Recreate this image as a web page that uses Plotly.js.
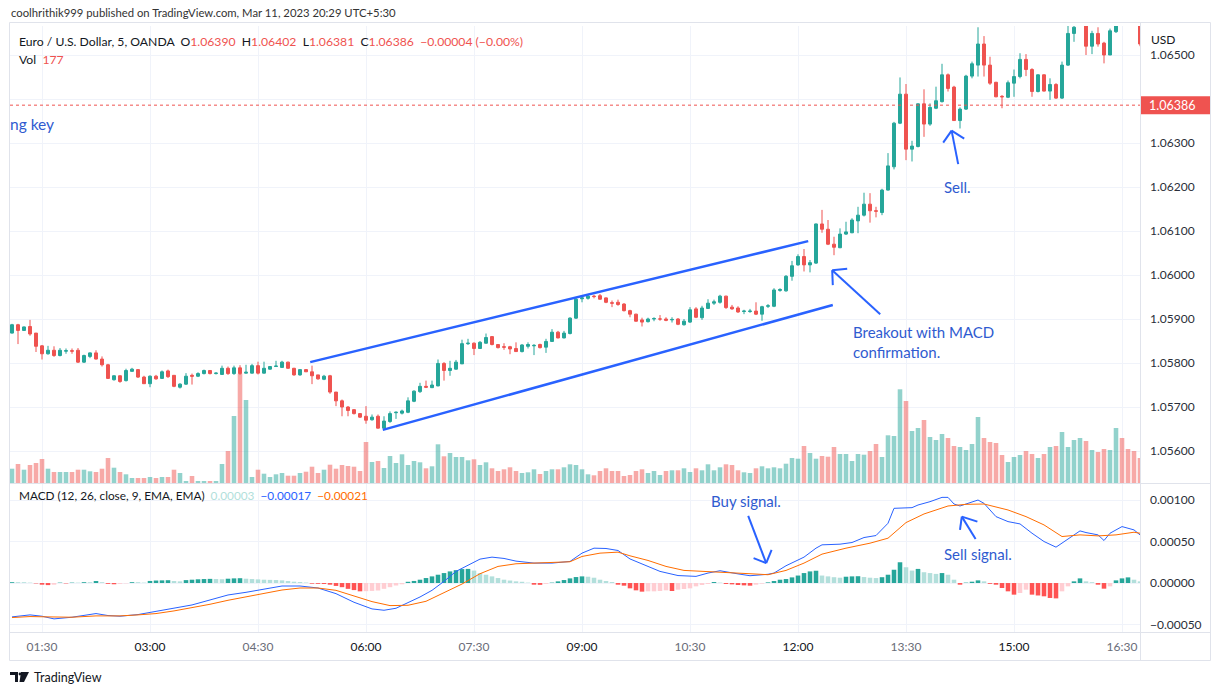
<!DOCTYPE html>
<html>
<head>
<meta charset="utf-8">
<script src="https://cdn.plot.ly/plotly-3.0.1.min.js"></script>
<style>
  html, body { margin: 0; padding: 0; background: #ffffff; }
  #chart { width: 1220px; height: 695px; }
</style>
</head>
<body>
<div id="chart"></div>
<script>
// EUR/USD, 5-minute bars from 01:05 to 16:45
const opens = [
1.05868,1.05887,1.05874,1.05883,1.05868,1.05839,1.05821,1.05829,1.05817,1.05827,
1.05828,1.05829,1.05802,1.05815,1.05823,1.05809,1.05796,1.05762,1.05771,1.05760,
1.05781,1.05785,1.05768,1.05753,1.05770,1.05765,1.05782,1.05772,1.05745,1.05752,
1.05772,1.05770,1.05776,1.05783,1.05776,1.05774,1.05788,1.05776,1.05789,1.05777,
1.05777,1.05794,1.05777,1.05786,1.05792,1.05790,1.05802,1.05788,1.05773,1.05785,
1.05780,1.05773,1.05763,1.05771,1.05734,1.05714,1.05700,1.05694,1.05685,1.05679,
1.05671,1.05679,1.05652,1.05667,1.05687,1.05686,1.05688,1.05713,1.05735,1.05747,
1.05744,1.05748,1.05799,1.05783,1.05786,1.05798,1.05844,1.05845,1.05833,1.05845,
1.05860,1.05842,1.05837,1.05837,1.05833,1.05826,1.05838,1.05839,1.05842,1.05836,
1.05849,1.05870,1.05857,1.05867,1.05902,1.05946,1.05947,1.05952,1.05953,1.05948,
1.05937,1.05938,1.05934,1.05919,1.05911,1.05898,1.05894,1.05900,1.05900,1.05900,
1.05898,1.05900,1.05887,1.05893,1.05923,1.05903,1.05924,1.05936,1.05938,1.05952,
1.05927,1.05925,1.05917,1.05917,1.05918,1.05911,1.05929,1.05929,1.05965,1.05964,
1.05997,1.06023,1.06042,1.06023,1.06027,1.06116,1.06104,1.06070,1.06062,1.06093,
1.06096,1.06123,1.06136,1.06161,1.06146,1.06142,1.06193,1.06246,1.06345,1.06411,
1.06286,1.06292,1.06389,1.06343,1.06379,1.06394,1.06455,1.06427,1.06351,1.06377,
1.06452,1.06477,1.06525,1.06477,1.06438,1.06406,1.06404,1.06436,1.06451,1.06490,
1.06467,1.06417,1.06455,1.06418,1.06433,1.06402,1.06477,1.06549,1.06572,1.06590,
1.06520,1.06549,1.06527,1.06500,1.06553,1.06600,1.06585,1.06578,1.06575];

const highs = [
1.05889,1.05889,1.05883,1.05898,1.05868,1.05841,1.05839,1.05838,1.05834,1.05833,
1.05833,1.05834,1.05819,1.05824,1.05829,1.05815,1.05798,1.05772,1.05772,1.05787,
1.05789,1.05786,1.05771,1.05772,1.05773,1.05783,1.05785,1.05772,1.05754,1.05777,
1.05776,1.05779,1.05785,1.05783,1.05779,1.05794,1.05792,1.05794,1.05795,1.05796,
1.05798,1.05803,1.05803,1.05792,1.05805,1.05805,1.05803,1.05789,1.05785,1.05786,
1.05794,1.05773,1.05773,1.05773,1.05734,1.05717,1.05702,1.05695,1.05686,1.05702,
1.05683,1.05683,1.05679,1.05690,1.05690,1.05694,1.05722,1.05738,1.05755,1.05760,
1.05760,1.05808,1.05802,1.05805,1.05807,1.05853,1.05855,1.05847,1.05850,1.05867,
1.05861,1.05843,1.05845,1.05839,1.05847,1.05843,1.05847,1.05843,1.05844,1.05855,
1.05877,1.05873,1.05873,1.05904,1.05949,1.05953,1.05956,1.05955,1.05957,1.05949,
1.05942,1.05944,1.05936,1.05921,1.05912,1.05903,1.05903,1.05904,1.05909,1.05904,
1.05904,1.05902,1.05900,1.05927,1.05927,1.05930,1.05945,1.05944,1.05955,1.05953,
1.05932,1.05929,1.05921,1.05923,1.05938,1.05930,1.05934,1.05970,1.05970,1.06000,
1.06032,1.06047,1.06059,1.06034,1.06117,1.06148,1.06125,1.06087,1.06106,1.06121,
1.06129,1.06155,1.06187,1.06186,1.06155,1.06196,1.06277,1.06348,1.06449,1.06434,
1.06305,1.06390,1.06422,1.06390,1.06428,1.06480,1.06458,1.06430,1.06381,1.06455,
1.06485,1.06563,1.06543,1.06496,1.06439,1.06409,1.06442,1.06467,1.06504,1.06502,
1.06470,1.06456,1.06456,1.06447,1.06436,1.06485,1.06575,1.06590,1.06605,1.06600,
1.06555,1.06563,1.06530,1.06560,1.06590,1.06625,1.06600,1.06590,1.06580];

const lows = [
1.05867,1.05843,1.05873,1.05862,1.05825,1.05808,1.05819,1.05814,1.05815,1.05821,
1.05821,1.05800,1.05800,1.05811,1.05808,1.05792,1.05764,1.05760,1.05755,1.05758,
1.05781,1.05766,1.05753,1.05745,1.05762,1.05764,1.05766,1.05745,1.05742,1.05750,
1.05751,1.05768,1.05774,1.05774,1.05774,1.05773,1.05773,1.05773,1.05773,1.05776,
1.05776,1.05774,1.05776,1.05785,1.05791,1.05789,1.05787,1.05771,1.05771,1.05780,
1.05752,1.05762,1.05761,1.05730,1.05702,1.05679,1.05679,1.05683,1.05675,1.05662,
1.05669,1.05651,1.05650,1.05664,1.05673,1.05683,1.05686,1.05711,1.05732,1.05743,
1.05743,1.05747,1.05760,1.05771,1.05785,1.05798,1.05841,1.05818,1.05832,1.05844,
1.05840,1.05833,1.05830,1.05820,1.05825,1.05824,1.05833,1.05818,1.05833,1.05823,
1.05848,1.05856,1.05856,1.05865,1.05900,1.05938,1.05944,1.05947,1.05944,1.05936,
1.05927,1.05930,1.05917,1.05904,1.05894,1.05883,1.05892,1.05895,1.05896,1.05895,
1.05892,1.05886,1.05885,1.05891,1.05902,1.05898,1.05923,1.05932,1.05935,1.05923,
1.05921,1.05914,1.05911,1.05914,1.05909,1.05896,1.05925,1.05927,1.05962,1.05962,
1.05987,1.06021,1.06008,1.06006,1.06025,1.06096,1.06068,1.06045,1.06061,1.06091,
1.06095,1.06095,1.06133,1.06119,1.06131,1.06136,1.06192,1.06240,1.06343,1.06261,
1.06258,1.06290,1.06314,1.06339,1.06377,1.06392,1.06417,1.06351,1.06333,1.06375,
1.06447,1.06451,1.06451,1.06432,1.06404,1.06379,1.06402,1.06405,1.06447,1.06452,
1.06405,1.06415,1.06417,1.06398,1.06400,1.06400,1.06475,1.06530,1.06570,1.06500,
1.06502,1.06519,1.06481,1.06500,1.06550,1.06580,1.06572,1.06574,1.06520];

const closes = [
1.05887,1.05874,1.05882,1.05866,1.05838,1.05821,1.05829,1.05817,1.05829,1.05828,
1.05827,1.05802,1.05817,1.05823,1.05809,1.05796,1.05765,1.05771,1.05758,1.05783,
1.05786,1.05768,1.05753,1.05770,1.05764,1.05780,1.05769,1.05747,1.05752,1.05770,
1.05770,1.05776,1.05783,1.05776,1.05777,1.05788,1.05776,1.05789,1.05776,1.05779,
1.05794,1.05777,1.05788,1.05792,1.05793,1.05802,1.05788,1.05773,1.05785,1.05780,
1.05771,1.05764,1.05770,1.05734,1.05714,1.05700,1.05692,1.05685,1.05677,1.05670,
1.05677,1.05652,1.05668,1.05685,1.05688,1.05691,1.05714,1.05736,1.05747,1.05745,
1.05750,1.05799,1.05783,1.05788,1.05802,1.05844,1.05845,1.05833,1.05847,1.05858,
1.05842,1.05835,1.05836,1.05832,1.05826,1.05841,1.05842,1.05840,1.05835,1.05849,
1.05870,1.05857,1.05868,1.05902,1.05945,1.05948,1.05952,1.05951,1.05945,1.05938,
1.05936,1.05933,1.05919,1.05911,1.05895,1.05893,1.05900,1.05901,1.05900,1.05897,
1.05899,1.05888,1.05895,1.05921,1.05904,1.05925,1.05936,1.05939,1.05952,1.05926,
1.05923,1.05916,1.05918,1.05918,1.05911,1.05928,1.05930,1.05966,1.05967,1.05997,
1.06021,1.06042,1.06023,1.06028,1.06116,1.06104,1.06070,1.06063,1.06093,1.06098,
1.06125,1.06136,1.06161,1.06146,1.06145,1.06193,1.06248,1.06345,1.06411,1.06286,
1.06293,1.06389,1.06343,1.06381,1.06396,1.06455,1.06424,1.06351,1.06377,1.06452,
1.06480,1.06525,1.06477,1.06436,1.06405,1.06405,1.06437,1.06451,1.06490,1.06467,
1.06417,1.06455,1.06418,1.06433,1.06402,1.06477,1.06549,1.06563,1.06598,1.06520,
1.06549,1.06525,1.06500,1.06555,1.06575,1.06585,1.06578,1.06575,1.06525];

const volumes = [
143,190,133,180,200,240,143,110,110,110,
110,133,133,117,110,143,250,153,110,87,
50,50,50,60,50,60,60,133,100,20,
70,20,20,20,20,190,320,670,1093,830,
60,133,93,60,87,100,73,73,100,113,
163,100,133,183,143,180,170,163,120,410,
210,220,150,270,200,287,180,220,207,147,
167,387,267,300,260,260,227,237,180,207,
147,120,137,157,120,100,107,137,90,120,
137,137,157,187,180,137,87,77,120,147,
120,120,70,80,120,137,100,120,80,120,
127,127,147,110,147,127,187,127,157,187,
180,127,107,100,147,167,147,157,147,193,
250,243,370,300,243,270,263,360,290,290,
220,290,283,320,390,260,477,470,937,820,
520,550,630,460,430,490,450,370,360,330,
390,660,450,410,400,280,210,260,280,320,
290,250,290,360,370,510,360,430,450,420,
330,310,340,330,550,450,340,320,250];

// MACD (12, 26, 9) in units of 0.00001
const histValues = [
1,1,1,0.5,-0.5,-2,-2.5,-2,0.5,-0.5,
0.5,0.5,1,1,2.4,1,-1,-1.5,-1,-0.5,
1,1,0.5,2.5,3,3.2,3.4,2.4,2,3.5,
4,4.5,4.8,5,4.8,4.6,5.2,5.6,5.8,5.2,
4.8,4.4,4,3.8,3.6,3.2,2.4,1.6,1.2,0.6,
-0.8,-1,-1.2,-2,-3.5,-5,-7,-8.5,-10,-9.8,
-9.5,-9,-7,-5,-3,-1.5,1.5,2.5,4,6,
8,10,12,14,15.5,16.8,17,15,12,10,
8,6,4,3,2,1.5,0.5,-2,-2.2,-1,
0.5,2,3.6,5.6,7.2,8,7.6,6.4,4,2.4,
1.2,-2,-3.2,-6.4,-8.8,-10.4,-10,-10,-9.6,-8.8,
-9.6,-8,-7.2,-6.4,-4,-2.4,-1.2,1.2,0.5,-1.2,
-1.6,-2.4,-2.8,-3.2,-2,-0.8,0.8,2.4,4,4.8,
6.8,9,12,14,14.8,9,8,7,6.4,7.6,
8,8.2,7.2,6.4,6,7,10,16,25,19,
15,17,13,12,11,12,10,4,-2,0.5,
1.6,3.2,2,-1,-2,-6,-10,-14,-12,-8,
-14,-15,-16,-18,-18.5,-10,-4,2,5.6,2,
1,-2,-6.8,-4,3.2,5.6,6.8,4,2,-1.2];

const macdBars = [0,3,5,7,10,12,14,16,18,21,24,27,30,33,36,39,42,45,48,51,54,57,60,62,64,66,68,70,72,74,76,78,80,82,84,87,90,93,95,97,99,101,103,106,108,111,114,116,118,121,123,126,127,129,131,132,134,135,138,140,142,144,146,147,150,151,153,155,156,157,158,160,161,162,164,166,168,170,172,174,175,177,178,179,181,182,183,185,187,188];
const macdValues = [-40.8,-38.4,-40,-43.2,-41.2,-39.2,-36.8,-39.2,-40,-38,-34.4,-30.8,-26.4,-20.4,-14.4,-11.2,-7.6,-3.6,-3.6,-6,-12.8,-23.2,-31.2,-32.8,-30.4,-24,-16.8,-8.8,2,14,21.6,28.8,31.2,29.6,26.4,24,24,26,36,42,41.6,39.2,29,20,14,9,8,12,14.8,11,8.8,10.5,12,20.8,27.2,31.2,42,46,46.8,48.8,54.8,57.2,72,90,90.8,94,98,103.2,103.2,95.2,92.8,98,100,96,80,74,71.2,60,50,43.2,48,58,62.8,60.8,58,51.2,60,68,64,58];

const signalBars = [0,3,6,10,14,18,21,24,27,30,33,36,39,42,45,48,51,54,57,60,63,66,69,72,75,78,81,84,87,90,93,95,98,101,103,106,109,112,116,120,123,126,129,132,135,139,143,146,149,152,156,159,162,166,169,172,175,178,181,184,187,188];
const signalValues = [-41.6,-40.4,-40.8,-41.2,-39.6,-39.6,-38.4,-36.8,-33.6,-30,-25.6,-20.8,-16.8,-12.4,-8.4,-6,-6,-8.8,-16,-22.4,-27.2,-26.8,-22,-12,-1.2,11.2,20,23.2,24,24.4,25.6,32,36,37.2,32.8,27.2,20,15.2,14,12.8,11.2,10,15.2,24,34.8,42,48,54,72.8,83.2,92.8,94.8,95.2,88,80,70,56,58,56.8,58,61.2,60];

const tickLabels = ['01:30','03:00','04:30','06:00','07:30','09:00','10:30','12:00','13:30','15:00','16:30'];
const majorTicks = ['03:00','06:00','09:00','12:00','15:00'];
const priceTicks = [1.056,1.057,1.058,1.059,1.060,1.061,1.062,1.063,1.064,1.065];
const macdTicks = [-0.0005,0,0.0005,0.001];

// Latest bar (to the right of the visible window)
const lastOpen = 1.06390, lastHigh = 1.06402, lastLow = 1.06381, lastClose = 1.06386;
const lastChange = '\u22120.00004 (\u22120.00%)';
const lastVolume = 177;
const macdLegend = ['0.00003', '\u22120.00017', '\u22120.00021'];

// Trendline drawings: [bar index, price]
const channelUpper = [[49.7, 1.05802], [132.7, 1.06077]];
const channelLower = [[61.8, 1.05648], [136.8, 1.05932]];
const breakoutArrow = { tail: [144.7, 1.05911], tip: [136.7, 1.06011], h1: [139.2, 1.06014], h2: [136.8, 1.05977] };
const sellArrow = { tail: [157.7, 1.06252], tip: [156.6, 1.06328], h1: [155.2, 1.06301], h2: [158.7, 1.06310] };
const buySignalArrow = { tail: [122.7, 0.00081], tip: [125.7, 0.00024], h1: [123.6, 0.00030], h2: [126.6, 0.00040] };
const sellSignalArrow = { tail: [160.6, 0.00053], tip: [158.3, 0.00080], h1: [158.0, 0.00064], h2: [160.9, 0.00074] };

// ---------------------------------------------------------------------------
const MACD_UNIT = 1e-5;
const UP = '#26a69a', DOWN = '#ef5350';
const DRAW = '#2962ff', TEXT_DRAW = '#2f5bd0';
const FONT = 'Lato, "Open Sans", "DejaVu Sans", sans-serif';
const N = closes.length;

const pad = n => String(n).padStart(2, '0');
const times = [];
for (let i = 0; i < N; i++) {
  const m = 65 + 5 * i;
  times.push(pad(Math.floor(m / 60)) + ':' + pad(m % 60));
}

// pixel frame of the plotting area
const L = 10, R = 1140, T = 26, B = 632, SPLIT = 483;
const PX = x => (x - L) / (R - L);
const PY = y => (B - y) / (B - T);
const splitFrac = PY(SPLIT);

const priceRange = [1.055273, 1.065659];
const pxPerPrice = (SPLIT - T) / (priceRange[1] - priceRange[0]);

const volColors = closes.map((c, i) => c >= opens[i] ? 'rgba(38,166,154,0.5)' : 'rgba(239,83,80,0.5)');
const histColors = histValues.map((h, i) => {
  const prev = i > 0 ? histValues[i - 1] : 0;
  if (h >= 0) return h > prev ? '#26a69a' : '#b2dfdb';
  return h < prev ? '#ff5252' : '#ffcdd2';
});

const traces = [
  { type: 'bar', x: times, y: volumes, xaxis: 'x', yaxis: 'y2',
    marker: { color: volColors, line: { width: 0 } }, hoverinfo: 'skip' },
  { type: 'candlestick', x: times, open: opens, high: highs, low: lows, close: closes,
    xaxis: 'x', yaxis: 'y', whiskerwidth: 0,
    increasing: { line: { color: UP, width: 1 }, fillcolor: UP },
    decreasing: { line: { color: DOWN, width: 1 }, fillcolor: DOWN },
    hoverinfo: 'skip' },
  { type: 'bar', x: times, y: histValues.map(v => v * MACD_UNIT), xaxis: 'x', yaxis: 'y3',
    marker: { color: histColors, line: { width: 0 } }, hoverinfo: 'skip' },
  { type: 'scatter', mode: 'lines', x: macdBars.map(i => times[i]), y: macdValues.map(v => v * MACD_UNIT),
    xaxis: 'x', yaxis: 'y3', line: { color: '#2962ff', width: 1 }, hoverinfo: 'skip' },
  { type: 'scatter', mode: 'lines', x: signalBars.map(i => times[i]), y: signalValues.map(v => v * MACD_UNIT),
    xaxis: 'x', yaxis: 'y3', line: { color: '#ff6d00', width: 1 }, hoverinfo: 'skip' }
];

function seg(a, b, yref, w) {
  return { type: 'line', xref: 'x', yref: yref, x0: a[0], y0: a[1], x1: b[0], y1: b[1],
           line: { color: DRAW, width: w } };
}
function arrow(a, yref) {
  return [seg(a.tail, a.tip, yref, 2), seg(a.tip, a.h1, yref, 2), seg(a.tip, a.h2, yref, 2)];
}
const frameColor = '#e0e3eb';
function pline(x0, y0, x1, y1) {
  return { type: 'line', xref: 'paper', yref: 'paper', x0: PX(x0), y0: PY(y0), x1: PX(x1), y1: PY(y1),
           line: { color: frameColor, width: 1 }, layer: 'above' };
}
const tagHalf = 9 / pxPerPrice;

const shapes = [
  seg(channelUpper[0], channelUpper[1], 'y', 2.5),
  seg(channelLower[0], channelLower[1], 'y', 2.5),
  ...arrow(breakoutArrow, 'y'),
  ...arrow(sellArrow, 'y'),
  ...arrow(buySignalArrow, 'y3'),
  ...arrow(sellSignalArrow, 'y3'),
  { type: 'line', xref: 'paper', yref: 'y', x0: 0, x1: 1, y0: lastClose, y1: lastClose,
    line: { color: DOWN, width: 1, dash: 'dot' } },
  // frame
  pline(9.5, 22.5, 1210.5, 22.5),
  pline(9.5, 660.5, 1210.5, 660.5),
  pline(9.5, 22.5, 9.5, 660.5),
  pline(1210.5, 22.5, 1210.5, 660.5),
  pline(1140.5, 22.5, 1140.5, 660.5),
  pline(9.5, SPLIT + 0.5, 1210.5, SPLIT + 0.5),
  pline(9.5, B + 0.5, 1210.5, B + 0.5),
  { type: 'rect', xref: 'paper', yref: 'y', x0: PX(1141), x1: PX(1210), y0: lastClose - tagHalf, y1: lastClose + tagHalf,
    fillcolor: DOWN, line: { width: 0 }, layer: 'above' },
  // TradingView logo mark
  { type: 'path', xref: 'paper', yref: 'paper', fillcolor: '#131722', line: { width: 0 },
    path: 'M' + PX(10) + ',' + PY(672) + ' L' + PX(18) + ',' + PY(672) + ' L' + PX(18) + ',' + PY(682) +
          ' L' + PX(15) + ',' + PY(682) + ' L' + PX(15) + ',' + PY(675) + ' L' + PX(10) + ',' + PY(675) + ' Z' },
  { type: 'path', xref: 'paper', yref: 'paper', fillcolor: '#131722', line: { width: 0 },
    path: 'M' + PX(21) + ',' + PY(672) + ' L' + PX(29) + ',' + PY(672) + ' L' + PX(24) + ',' + PY(682) +
          ' L' + PX(19.5) + ',' + PY(682) + ' Z' },
  { type: 'circle', xref: 'paper', yref: 'paper', fillcolor: '#131722', line: { width: 0 },
    x0: PX(18.6), x1: PX(21.4), y0: PY(675.4), y1: PY(672.6) }
];

const red = s => '<span style="color:#ef5350">' + s + '</span>';
const sp = '\u00a0\u00a0';
const legendText = 'Euro / U.S. Dollar, 5, OANDA' + sp +
  'O' + red(lastOpen.toFixed(5)) + sp + 'H' + red(lastHigh.toFixed(5)) + sp +
  'L' + red(lastLow.toFixed(5)) + sp + 'C' + red(lastClose.toFixed(5)) + sp + red(lastChange);
const macdText = 'MACD (12, 26, close, 9, EMA, EMA)' + sp +
  '<span style="color:#b2dfdb">' + macdLegend[0] + '</span>' + sp +
  '<span style="color:#2962ff">' + macdLegend[1] + '</span>' + sp +
  '<span style="color:#ff6d00">' + macdLegend[2] + '</span>';

function note(text, x, y, size, color, anchor) {
  return { xref: 'paper', yref: 'paper', x: PX(x), y: PY(y), text: text, showarrow: false,
           xanchor: anchor || 'left', yanchor: 'middle', align: 'left',
           font: { family: FONT, size: size, color: color } };
}

const annotations = [
  note('coolhrithik999 published on TradingView.com, Mar 11, 2023 20:29 UTC+5:30', 9, 12, 11.3, '#333333'),
  note(legendText, 17, 42, 12.2, '#131722'),
  note('Vol' + sp + red(String(lastVolume)), 17, 59, 12.2, '#131722'),
  note(macdText, 17, 495, 11.8, '#131722'),
  note('ng key', 8, 124, 15.5, TEXT_DRAW),
  note('Sell.', 942, 187, 15, TEXT_DRAW),
  note('Breakout with MACD<br>confirmation.', 851, 342, 15, TEXT_DRAW),
  note('Buy signal.', 709, 501, 15, TEXT_DRAW),
  note('Sell signal.', 942, 554, 15, TEXT_DRAW),
  note('USD', 1149, 40, 12, '#131722'),
  { xref: 'paper', yref: 'y', x: PX(1147), y: lastClose, text: lastClose.toFixed(5), showarrow: false,
    xanchor: 'left', yanchor: 'middle', font: { family: FONT, size: 12.5, color: '#ffffff' } },
  note('TradingView', 32, 677, 12.5, '#131722')
];

const axisFont = { family: FONT, size: 12, color: '#2a2e39' };
const layout = {
  width: 1220, height: 695,
  margin: { l: L, r: 1220 - R, t: T, b: 695 - B, pad: 0 },
  paper_bgcolor: '#ffffff', plot_bgcolor: '#ffffff',
  showlegend: false, dragmode: false, hovermode: false,
  barmode: 'overlay', bargap: 0.24,
  xaxis: {
    type: 'category', anchor: 'y3', range: [-0.333, 188],
    rangeslider: { visible: false },
    tickmode: 'array', tickvals: tickLabels,
    ticktext: tickLabels.map(t => majorTicks.includes(t) ? t : '<span style="color:#6a6d78">' + t + '</span>'),
    tickfont: { family: FONT, size: 12, color: '#131722' }, ticks: '', ticklabelstandoff: 6,
    showgrid: true, gridcolor: '#f0f3fa', gridwidth: 1, zeroline: false, showline: false, fixedrange: true
  },
  yaxis: {
    domain: [splitFrac, 1], range: priceRange, side: 'right', anchor: 'x',
    tickmode: 'array', tickvals: priceTicks,
    // the 1.06400 label sits under the last-price tag
    ticktext: priceTicks.map(v => Math.abs(v - lastClose) * pxPerPrice < 12 ? '' : v.toFixed(5)),
    tickfont: axisFont, ticks: '', ticklabelstandoff: 9,
    showgrid: true, gridcolor: '#f0f3fa', zeroline: false, showline: false, fixedrange: true
  },
  yaxis2: {
    overlaying: 'y', range: [0, 4570], visible: false, fixedrange: true
  },
  yaxis3: {
    domain: [0, splitFrac], range: [-0.00059, 0.001205], side: 'right', anchor: 'x',
    tickmode: 'array', tickvals: macdTicks, tickformat: '.5f', tickfont: axisFont,
    ticks: '', ticklabelstandoff: 9,
    showgrid: true, gridcolor: '#f0f3fa', zeroline: false, showline: false, fixedrange: true
  },
  shapes: shapes,
  annotations: annotations
};

Plotly.newPlot('chart', traces, layout, { displayModeBar: false, staticPlot: true });
</script>
</body>
</html>
